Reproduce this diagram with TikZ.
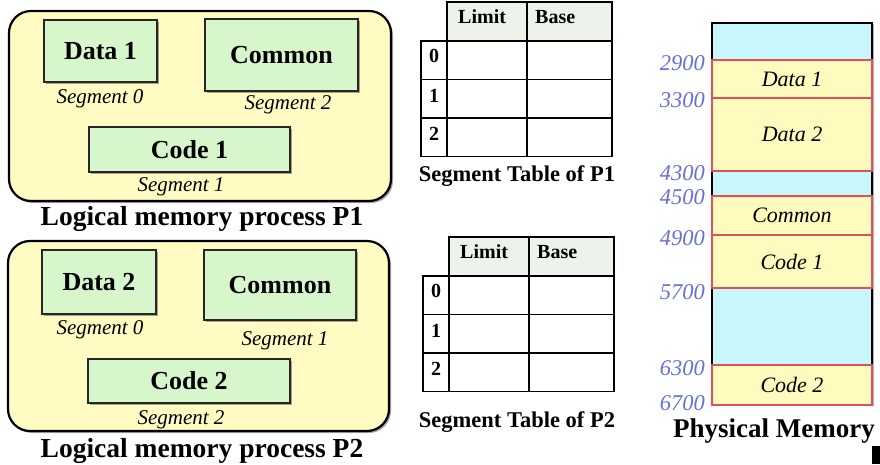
\documentclass[tikz,border=0pt]{standalone}
\usepackage{fontspec}
\setmainfont{Liberation Serif}
\usetikzlibrary{shadows}
\definecolor{procyellow}{HTML}{FFFBC2}
\definecolor{seggreen}{HTML}{D8F6CC}
\definecolor{hdrgray}{HTML}{EDF2EA}
\definecolor{memblue}{HTML}{C8F6FD}
\definecolor{memyellow}{HTML}{FFFBBE}
\definecolor{memred}{HTML}{E0505C}
\definecolor{addrblue}{HTML}{6670D6}
\newcommand\fsz[1]{\fontsize{#1}{#1}\selectfont}
\begin{document}
\begin{tikzpicture}[x=1pt,y=-1pt,
  procbox/.style={draw=black, line width=2.2pt, fill=procyellow, rounded corners=22pt,
    drop shadow={shadow xshift=2pt, shadow yshift=-2pt, opacity=0.35, fill=black}},
  segbox/.style={draw=black!85, line width=2pt, fill=seggreen, font=\fsz{26}\bfseries,
    drop shadow={shadow xshift=1.5pt, shadow yshift=-1.5pt, opacity=0.35, fill=black}},
  seglabel/.style={font=\fsz{21}\itshape, anchor=base, inner sep=0pt},
  bigcap/.style={font=\fsz{27.5}\bfseries, anchor=base, inner sep=0pt},
  tabcap/.style={font=\fsz{22.5}\bfseries, anchor=base, inner sep=0pt},
  cell/.style={draw, line width=1.8pt, inner sep=0pt},
  hdrcell/.style={cell, fill=hdrgray},
  hdrtext/.style={font=\fsz{20}\bfseries, anchor=base west, inner sep=0pt},
  rowtext/.style={font=\fsz{20}\bfseries, anchor=base, inner sep=0pt},
  memcol/.style={draw=black, line width=1.6pt, fill=memblue, inner sep=0pt,
    drop shadow={shadow xshift=1.5pt, shadow yshift=-1pt, opacity=0.3, fill=black}},
  memseg/.style={draw=memred, line width=2pt, fill=memyellow, inner sep=0pt,
    minimum width=160pt, font=\fsz{22}\itshape},
  addr/.style={font=\fsz{22.5}\itshape, text=addrblue, anchor=base east, inner sep=0pt}
]
\clip (0,0) rectangle (880,464);
\fill[white] (0,0) rectangle (880,464);

% ---------- Process P1 ----------
\node[procbox, minimum width=382pt, minimum height=190pt] (p1) at (200,106) {};
\node[segbox, minimum width=113pt, minimum height=62pt] (p1data) at (100.5,51) {Data 1};
\node[segbox, minimum width=153pt, minimum height=72pt] (p1common) at (281.5,55) {Common};
\node[segbox, minimum width=201pt, minimum height=45pt] (p1code) at (189.5,149.5) {Code 1};
\node[seglabel] (p1s0) at (100,103) {Segment 0};
\node[seglabel] (p1s2) at (288,109) {Segment 2};
\node[seglabel] (p1s1) at (181,191) {Segment 1};
\node[bigcap] (p1cap) at (202,225) {Logical memory process P1};

% ---------- Process P2 ----------
\node[procbox, minimum width=381pt, minimum height=190pt] (p2) at (198.5,336) {};
\node[segbox, minimum width=114pt, minimum height=64pt] (p2data) at (99,282) {Data 2};
\node[segbox, minimum width=152pt, minimum height=70pt] (p2common) at (280,285) {Common};
\node[segbox, minimum width=202pt, minimum height=44pt] (p2code) at (189,381) {Code 2};
\node[seglabel] (p2s0) at (100,334) {Segment 0};
\node[seglabel] (p2s1) at (285,345) {Segment 1};
\node[seglabel] (p2s2) at (181,424) {Segment 2};
\node[bigcap] (p2cap) at (202,457) {Logical memory process P2};

% ---------- Segment tables ----------
\foreach \t/\dx/\dy in {1/0/0, 2/2/235}{
  \begin{scope}[shift={(\dx,\dy)}]
    \node[hdrcell, minimum width=80pt, minimum height=39pt] (t\t lim) at (487,21.5) {};
    \node[hdrcell, minimum width=85pt, minimum height=39pt] (t\t base) at (569.5,21.5) {};
    \node[hdrtext] (t\t limtxt) at (458,23) {Limit};
    \node[hdrtext] (t\t basetxt) at (535,23) {Base};
    \foreach \r/\cy/\by in {0/60.25/62, 1/98.75/102, 2/137.25/140}{
      \node[cell, minimum width=26pt, minimum height=38.5pt] (t\t n\r) at (434,\cy) {};
      \node[cell, minimum width=80pt, minimum height=38.5pt] (t\t l\r) at (487,\cy) {};
      \node[cell, minimum width=85pt, minimum height=38.5pt] (t\t b\r) at (569.5,\cy) {};
      \node[rowtext] (t\t d\r) at (434,\by) {\r};
    }
  \end{scope}
}
\node[tabcap] (t1cap) at (517,181) {Segment Table of P1};
\node[tabcap] (t2cap) at (517,427) {Segment Table of P2};

% ---------- Physical memory ----------
\node[memcol, minimum width=160pt, minimum height=382pt] (phys) at (792,214) {};
\node[memseg, minimum height=38pt] (mdata1) at (792,79) {Data 1};
\node[memseg, minimum height=73pt] (mdata2) at (792,134.5) {Data 2};
\node[memseg, minimum height=39pt] (mcommon) at (792,215.5) {Common};
\node[memseg, minimum height=53pt] (mcode1) at (792,261.5) {Code 1};
\node[memseg, minimum height=40pt] (mcode2) at (792,385) {Code 2};

\node[addr] (a2900) at (705,70) {2900};
\node[addr] (a3300) at (705,107) {3300};
\node[addr] (a4300) at (705,180) {4300};
\node[addr] (a4500) at (705,204) {4500};
\node[addr] (a4900) at (705,245) {4900};
\node[addr] (a5700) at (705,299) {5700};
\node[addr] (a6300) at (705,375) {6300};
\node[addr] (a6700) at (705,410) {6700};

\node[bigcap, anchor=base west, font=\fsz{27}\bfseries] (physcap) at (673,437) {Physical Memory};

\fill[black] (872,446) rectangle (880,464);
\end{tikzpicture}
\end{document}
